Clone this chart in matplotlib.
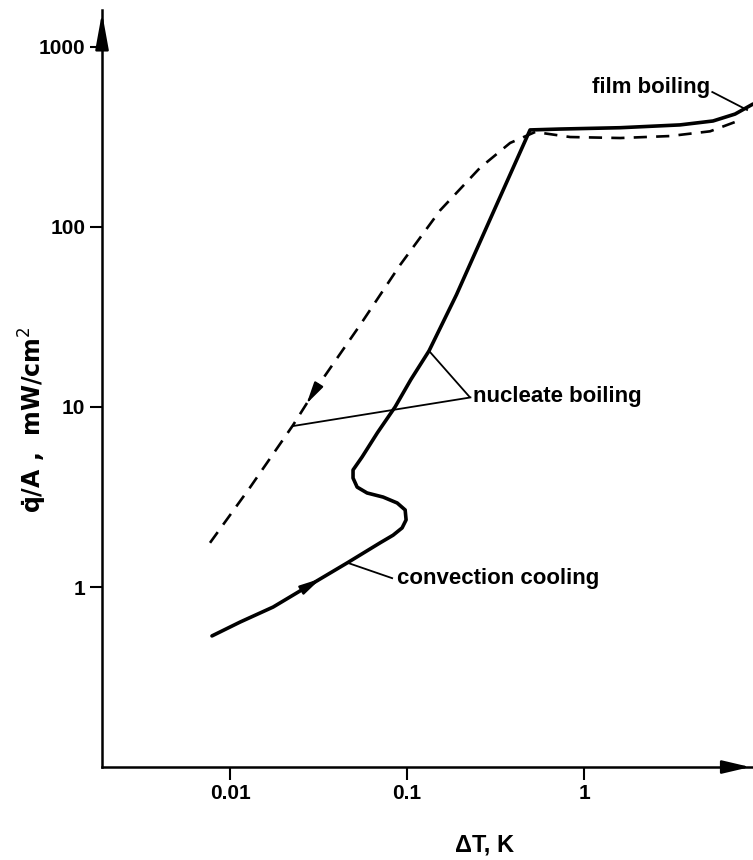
import numpy as np
import matplotlib.pyplot as plt

plt.rcParams['font.family'] = ['Liberation Sans', 'DejaVu Sans']

# solid curve: convection cooling -> nucleate boiling -> film boiling
solid_dT = [0.0079, 0.0114, 0.0175, 0.0294, 0.0458, 0.0704, 0.0833, 0.0937, 0.0987,
            0.0975, 0.0879, 0.0732, 0.0594, 0.0522, 0.0495, 0.0495, 0.0557, 0.068,
            0.0855, 0.105, 0.133, 0.190, 0.300, 0.495,
            0.732, 1.60, 3.48, 5.35, 7.13, 9.0]
solid_q = [0.535, 0.639, 0.774, 1.05, 1.36, 1.76, 1.94, 2.13, 2.36,
           2.68, 2.93, 3.16, 3.33, 3.59, 4.03, 4.47, 5.28, 7.2,
           10.0, 14.2, 20.5, 42.0, 115.0, 346.0,
           350.0, 356.0, 369.0, 388.0, 424.0, 482.0]

# dashed curve: reverse branch
dash_dT = [0.0077, 0.0130, 0.0227, 0.0310, 0.0542, 0.0913, 0.154, 0.258, 0.382, 0.529,
           0.834, 1.60, 3.06, 5.15, 7.6]
dash_q = [1.76, 3.59, 7.94, 12.9, 28.5, 61.5, 124.0, 213.0, 293.0, 337.0,
          316.0, 312.0, 320.0, 340.0, 392.0]

xticks = [0.01, 0.1, 1]
xtick_labels = ['0.01', '0.1', '1']
yticks = [1, 10, 100, 1000]
ytick_labels = ['1', '10', '100', '1000']

fig = plt.figure(figsize=(7.53, 8.60), dpi=100)
ax = fig.add_axes([0.1355, 0.1081, 0.8645, 0.8803])
ax.set_xscale('log')
ax.set_yscale('log')
ax.set_xlim(0.00189, 9.0)
ax.set_ylim(0.1, 1605)

ax.plot(solid_dT, solid_q, color='black', lw=2.6, solid_capstyle='round', solid_joinstyle='round')
ax.plot(dash_dT, dash_q, color='black', lw=1.9, dashes=(5, 3.5))

# direction arrows on the curves
def curve_arrow(xs, ys, i, frac):
    lx0, ly0 = np.log10(xs[i]), np.log10(ys[i])
    lx1, ly1 = np.log10(xs[i + 1]), np.log10(ys[i + 1])
    tip = (10 ** (lx0 + frac * (lx1 - lx0)), 10 ** (ly0 + frac * (ly1 - ly0)))
    back = (10 ** (lx0 + (frac - 0.25) * (lx1 - lx0)), 10 ** (ly0 + (frac - 0.25) * (ly1 - ly0)))
    ax.annotate('', xy=tip, xytext=back,
                arrowprops=dict(arrowstyle='-|>,head_length=1.3,head_width=0.3',
                                color='black', lw=1.5, mutation_scale=10))

curve_arrow(solid_dT, solid_q, 3, 0.3)
curve_arrow(dash_dT[::-1], dash_q[::-1], 11, 0.5)

for s in ['top', 'right']:
    ax.spines[s].set_visible(False)
for s in ['left', 'bottom']:
    ax.spines[s].set_linewidth(1.8)

ax.set_xticks(xticks)
ax.set_xticklabels(xtick_labels)
ax.set_yticks(yticks)
ax.set_yticklabels(ytick_labels)
ax.minorticks_off()
ax.tick_params(direction='out', length=9, width=1.5, labelsize=15, pad=3)
for t in ax.get_xticklabels() + ax.get_yticklabels():
    t.set_fontweight('bold')

# axis arrowheads
ax.annotate('', xy=(1.0, 0), xytext=(0.97, 0), xycoords='axes fraction',
            arrowprops=dict(arrowstyle='-|>,head_length=1.7,head_width=0.4',
                            color='black', lw=1.8, mutation_scale=10))
ax.annotate('', xy=(0, 1.0), xytext=(0, 0.97), xycoords='axes fraction',
            arrowprops=dict(arrowstyle='-|>,head_length=2.2,head_width=0.4',
                            color='black', lw=1.8, mutation_scale=10))

lab = dict(fontsize=16, fontweight='bold', color='black')

# nucleate boiling
ax.plot([0.0227, 0.228], [7.84, 11.3], color='black', lw=1.3)
ax.plot([0.133, 0.225], [20.5, 11.4], color='black', lw=1.3)
ax.text(0.235, 11.4, 'nucleate boiling', ha='left', va='center', **lab)

# convection cooling
ax.plot([0.0464, 0.0823], [1.36, 1.12], color='black', lw=1.3)
ax.text(0.0881, 1.12, 'convection cooling', ha='left', va='center', **lab)

# film boiling
ax.plot([5.3, 8.33], [562, 447], color='black', lw=1.3)
ax.text(5.15, 592, 'film boiling', ha='right', va='center', **lab)

fig.text(485 / 753, 1 - 845 / 860, 'ΔT, K', ha='center', va='center', fontsize=17, fontweight='bold')
fig.text(33 / 753, 1 - 420 / 860, 'q\u0307/A ,  mW/cm$^2$', ha='center', va='center',
         rotation=90, fontsize=17, fontweight='bold', family=['DejaVu Sans'])

fig.savefig('out.png', dpi=100)
